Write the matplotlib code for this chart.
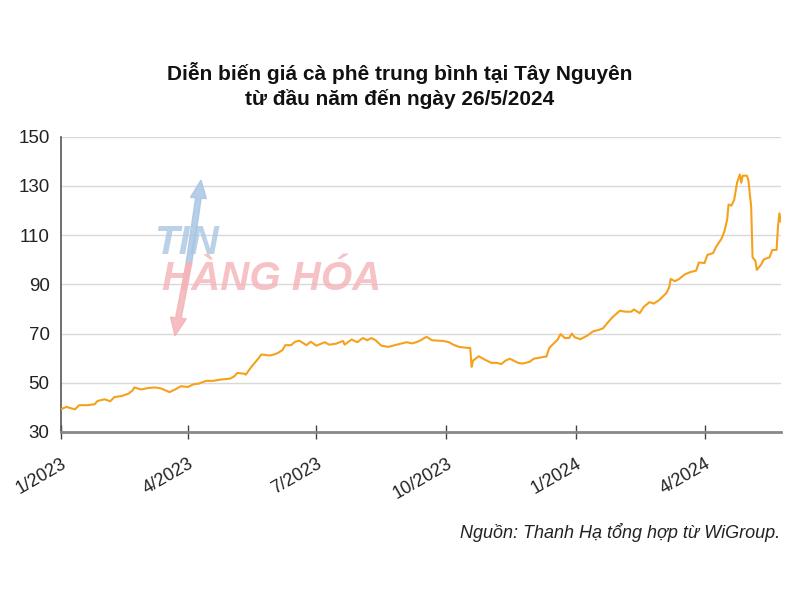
import matplotlib
matplotlib.use("Agg")
import matplotlib.pyplot as plt
import pandas as pd

dates = [
    "2023-01-01", "2023-01-05", "2023-01-11", "2023-01-14", "2023-01-20", "2023-01-25", "2023-01-27",
    "2023-02-01", "2023-02-05", "2023-02-08", "2023-02-13", "2023-02-18", "2023-02-21", "2023-02-22",
    "2023-02-27", "2023-03-04", "2023-03-09", "2023-03-13", "2023-03-19", "2023-03-23", "2023-03-27",
    "2023-04-01", "2023-04-05", "2023-04-09", "2023-04-14", "2023-04-19", "2023-04-24", "2023-05-01",
    "2023-05-04", "2023-05-06", "2023-05-11", "2023-05-12", "2023-05-16", "2023-05-21", "2023-05-23",
    "2023-05-29", "2023-06-01", "2023-06-04", "2023-06-07", "2023-06-09", "2023-06-13", "2023-06-16",
    "2023-06-19", "2023-06-24", "2023-06-27", "2023-07-01", "2023-07-07", "2023-07-10", "2023-07-15",
    "2023-07-20", "2023-07-21", "2023-07-26", "2023-07-30", "2023-08-03", "2023-08-06", "2023-08-09",
    "2023-08-12", "2023-08-16", "2023-08-21", "2023-08-27", "2023-09-03", "2023-09-07", "2023-09-12",
    "2023-09-17", "2023-09-21", "2023-09-29", "2023-10-03", "2023-10-06", "2023-10-10", "2023-10-16",
    "2023-10-18", "2023-10-19", "2023-10-20", "2023-10-24", "2023-10-28", "2023-11-02", "2023-11-06",
    "2023-11-09", "2023-11-12", "2023-11-15", "2023-11-21", "2023-11-24", "2023-11-29", "2023-12-02",
    "2023-12-06", "2023-12-11", "2023-12-13", "2023-12-17", "2023-12-19", "2023-12-21", "2023-12-24",
    "2023-12-27", "2023-12-29", "2023-12-31", "2024-01-04", "2024-01-09", "2024-01-13", "2024-01-17",
    "2024-01-20", "2024-01-23", "2024-01-27", "2024-02-01", "2024-02-05", "2024-02-09", "2024-02-11",
    "2024-02-15", "2024-02-18", "2024-02-22", "2024-02-25", "2024-02-29", "2024-03-05", "2024-03-07",
    "2024-03-08", "2024-03-11", "2024-03-14", "2024-03-18", "2024-03-22", "2024-03-26", "2024-03-28",
    "2024-04-01", "2024-04-03", "2024-04-07", "2024-04-09", "2024-04-13", "2024-04-15", "2024-04-17",
    "2024-04-18", "2024-04-20", "2024-04-22", "2024-04-24", "2024-04-26", "2024-04-27", "2024-04-28",
    "2024-05-01", "2024-05-02", "2024-05-04", "2024-05-05", "2024-05-07", "2024-05-08", "2024-05-11",
    "2024-05-13", "2024-05-17", "2024-05-19", "2024-05-22", "2024-05-23", "2024-05-24", "2024-05-25",
]
prices = [
    39.2, 40.2, 39.2, 40.9, 40.9, 41.3, 42.6,
    43.3, 42.5, 44.2, 44.6, 45.6, 47.0, 48.1,
    47.3, 47.9, 48.1, 47.7, 46.2, 47.3, 48.6,
    48.3, 49.4, 49.7, 50.8, 50.8, 51.3, 51.7,
    52.7, 54.0, 53.7, 53.3, 56.5, 59.9, 61.5,
    61.1, 61.5, 62.2, 63.3, 65.3, 65.3, 66.7,
    67.1, 65.3, 66.7, 65.1, 66.5, 65.5, 65.9,
    67.0, 65.5, 67.6, 66.5, 68.2, 67.3, 68.2,
    67.3, 65.1, 64.6, 65.5, 66.5, 66.0, 67.0,
    68.7, 67.3, 67.0, 66.5, 65.5, 64.6, 64.2,
    64.2, 56.5, 59.0, 60.8, 59.5, 58.1, 58.1,
    57.6, 59.0, 59.8, 58.1, 57.8, 58.5, 59.8,
    60.2, 60.7, 64.2, 66.5, 67.6, 69.8, 68.2,
    68.2, 70.0, 68.5, 67.7, 69.2, 70.9, 71.5,
    72.1, 74.2, 76.8, 79.3, 78.9, 78.9, 79.8,
    78.3, 80.9, 82.8, 82.2, 83.7, 86.5, 88.9,
    92.2, 91.3, 92.2, 94.1, 95.0, 95.6, 98.9,
    98.7, 102.0, 102.7, 105.1, 108.6, 111.5, 116.3,
    122.5, 122.0, 124.4, 131.3, 134.7, 131.3, 134.2,
    134.2, 132.5, 121.6, 101.0, 99.6, 95.9, 98.0,
    100.2, 101.0, 104.0, 104.0, 113.4, 118.9, 115.5,
]
tick_dates = ["2023-01-01", "2023-04-01", "2023-07-01", "2023-10-01", "2024-01-01", "2024-04-01"]
tick_labels = ["1/2023", "4/2023", "7/2023", "10/2023", "1/2024", "4/2024"]
y_ticks = [30, 50, 70, 90, 110, 130, 150]

title = "Diễn biến giá cà phê trung bình tại Tây Nguyên\ntừ đầu năm đến ngày 26/5/2024"
source = "Nguồn: Thanh Hạ tổng hợp từ WiGroup."

plt.rcParams['font.family'] = ['Liberation Sans', 'DejaVu Sans']

fig = plt.figure(figsize=(8, 6), dpi=100)
ax = fig.add_axes([0.076, 0.28, 0.9, 0.492])

x = pd.to_datetime(dates)
ax.plot(x, prices, color="#F5A11C", lw=1.5, zorder=3)

ax.set_xlim(pd.Timestamp("2023-01-01"), pd.Timestamp("2024-05-25"))
ax.set_ylim(30, 150)
ax.set_yticks(y_ticks)
ax.set_yticklabels([str(v) for v in y_ticks], fontsize=13.5, color="#222222")
ax.tick_params(axis="y", length=0, pad=8)
ax.yaxis.grid(True, color="#d9d9d9", lw=1)
ax.set_axisbelow(True)

ax.set_xticks(pd.to_datetime(tick_dates))
ax.set_xticklabels(tick_labels, rotation=30, ha="right", rotation_mode="anchor",
                   fontsize=13, color="#222222")
ax.tick_params(axis="x", direction="inout", length=10, width=1, color="#444444", pad=12)

for s in ["top", "right"]:
    ax.spines[s].set_visible(False)
ax.spines["left"].set_color("#555555")
ax.spines["left"].set_linewidth(1.2)
ax.spines["bottom"].set_color("#888888")
ax.spines["bottom"].set_linewidth(2)

fig.text(0.5, 0.857, title, ha="center", va="center", fontsize=15, fontweight="bold",
         color="#111111", linespacing=1.3)
fig.text(0.975, 0.112, source, ha="right", va="center", fontsize=13, style="italic",
         color="#222222")

# watermark
fig.text(0.193, 0.595, "TIN", fontsize=29, fontweight="bold", style="italic",
         color="#a9c6e3", alpha=0.8, ha="left", va="center")
fig.text(0.203, 0.535, "HÀNG HÓA", fontsize=29, fontweight="bold", style="italic",
         color="#f4b3b8", alpha=0.8, ha="left", va="center")
fig.patches.append(matplotlib.patches.FancyArrow(0.236, 0.56, 0.012, 0.11, width=0.007,
                   head_width=0.02, head_length=0.03, color="#a9c6e3", alpha=0.85,
                   transform=fig.transFigure, figure=fig))
fig.patches.append(matplotlib.patches.FancyArrow(0.236, 0.56, -0.013, -0.09, width=0.007,
                   head_width=0.02, head_length=0.03, color="#f4b3b8", alpha=0.85,
                   transform=fig.transFigure, figure=fig))

fig.savefig("out.png", dpi=100, facecolor="white")
